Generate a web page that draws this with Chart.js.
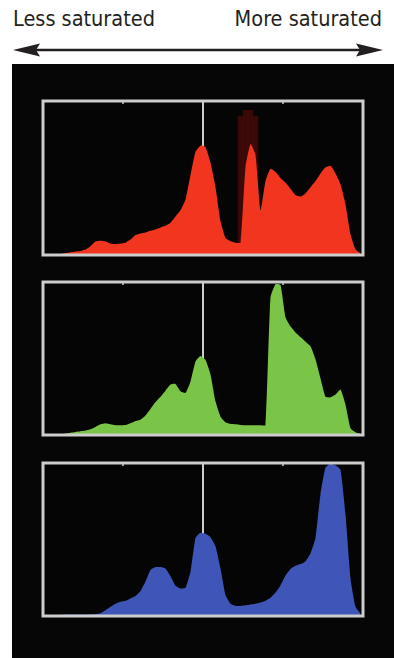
<!DOCTYPE html>
<html>
<head>
<meta charset="utf-8">
<script src="https://cdn.jsdelivr.net/npm/chart.js@4/dist/chart.umd.min.js"></script>
<style>
  html, body { margin: 0; padding: 0; background: #ffffff; }
  body { width: 394px; height: 658px; position: relative; overflow: hidden; }
  #header { position: absolute; left: 0; top: 0; }
  #panel { position: absolute; left: 12px; top: 64px; width: 382px; height: 594px; background: #060606; }
  canvas.hist { position: absolute; }
</style>
</head>
<body>
<svg id="header" width="394" height="64" xmlns="http://www.w3.org/2000/svg">
  <text x="13" y="26" font-family="'Liberation Sans Narrow','DejaVu Sans Condensed','Liberation Sans',sans-serif" font-size="21.5" fill="#231f20">Less saturated</text>
  <text x="382" y="26" text-anchor="end" font-family="'Liberation Sans Narrow','DejaVu Sans Condensed','Liberation Sans',sans-serif" font-size="21.5" fill="#231f20">More saturated</text>
  <line x1="34" y1="50" x2="360" y2="50" stroke="#231f20" stroke-width="2.5"/>
  <polygon points="13,50 40,43.5 36,50 40,56.5" fill="#231f20"/>
  <polygon points="383,50 356,43.5 360,50 356,56.5" fill="#231f20"/>
</svg>
<div id="panel"></div>
<canvas id="red" class="hist" style="left:37px;top:95px;width:332px;height:166px" width="332" height="166"></canvas>
<canvas id="green" class="hist" style="left:37px;top:276px;width:332px;height:165px" width="332" height="165"></canvas>
<canvas id="blue" class="hist" style="left:37px;top:457px;width:332px;height:165px" width="332" height="165"></canvas>
<script>
// Histogram bins (64 saturation bins, low -> high)
const binLabels = [0,1,2,3,4,5,6,7,8,9,10,11,12,13,14,15,16,17,18,19,20,21,22,23,24,25,26,27,28,29,30,31,
                   32,33,34,35,36,37,38,39,40,41,42,43,44,45,46,47,48,49,50,51,52,53,54,55,56,57,58,59,60,61,62,63];

const redValues = [0,0,0,0.5,1.3,1.7,2.2,2.6,
                   3.5,5.7,8.7,9.2,8.7,7.4,7,7.4,
                   8,10,13,14,14.6,15.7,16.6,17.9,
                   19,21,25,29,36,52,67,71,
                   70,60,44,22,11,9,8,8,
                   57,72,65,29,48,56,54,50,
                   47,43,39,38,40,44,48,53,
                   57,58,53,46,33,13.5,3.7,1];

const redGlowValues = [0,0,0,0,0,0,0,0,
                       0,0,0,0,0,0,0,0,
                       0,0,0,0,0,0,0,0,
                       0,0,0,0,0,0,0,0,
                       0,0,0,0,0,0,0,90,
                       94,94,90,0,0,0,0,0,
                       0,0,0,0,0,0,0,0,
                       0,0,0,0,0,0,0,0];

const greenValues = [0,0,0,0,0.9,1.5,2,2.4,
                     2.9,3.7,5.3,7,7.7,7,6.4,6.4,
                     6.6,7.7,9.2,10,12.7,17,21.5,25,
                     29,33,33.4,28.6,27.5,35,48,51.6,
                     49,39.6,22,12,8.4,7.3,7,6.6,
                     6.4,6.4,6.4,6.4,6.4,90,98.5,98,
                     77,71,67,64,61,58,49.5,37,
                     25,24.6,26.4,29.7,19.8,4.4,1.8,0.7];

const blueValues = [0,0.2,0.4,0.6,0.9,0.9,0.9,0.9,
                    0.9,1.1,1.3,1.8,3.7,6,8,9.3,
                    10,11.5,13,16.3,22.5,30,32,32,
                    31,26,19.8,18,18.5,29,51,54.4,
                    53.7,51.5,45.6,31,13.7,8,6.6,6.6,
                    7,7.5,8,8.8,10,12,15.4,20,
                    26.4,30.8,32.8,34,35.7,41,51,79.7,
                    97,99.5,98.5,95.6,66.5,24.7,6,1.5];

const frameColor = '#cdcdcd';

const framePlugin = {
  id: 'histFrame',
  beforeDatasetsDraw(chart) {
    const a = chart.chartArea, ctx = chart.ctx;
    ctx.save();
    ctx.fillStyle = '#050505';
    ctx.fillRect(a.left, a.top, a.right - a.left, a.bottom - a.top);
    // centre line
    ctx.strokeStyle = frameColor;
    ctx.lineWidth = 2;
    const cx = (a.left + a.right) / 2;
    ctx.beginPath(); ctx.moveTo(cx, a.top); ctx.lineTo(cx, a.bottom); ctx.stroke();
    ctx.restore();
  },
  afterDatasetsDraw(chart) {
    const a = chart.chartArea, ctx = chart.ctx;
    ctx.save();
    ctx.strokeStyle = frameColor;
    ctx.lineWidth = 3;
    ctx.strokeRect(a.left, a.top, a.right - a.left, a.bottom - a.top);
    // small ticks on the top border at the quarters
    ctx.lineWidth = 1.5;
    [0.25, 0.75].forEach(f => {
      const x = a.left + (a.right - a.left) * f;
      ctx.beginPath(); ctx.moveTo(x, a.top); ctx.lineTo(x, a.top + 3); ctx.stroke();
    });
    ctx.restore();
  }
};

function makeHist(id, datasets) {
  new Chart(document.getElementById(id), {
    type: 'line',
    data: { labels: binLabels, datasets: datasets },
    options: {
      responsive: false,
      animation: false,
      events: [],
      layout: { padding: 6 },
      plugins: { legend: { display: false }, tooltip: { enabled: false } },
      elements: { point: { radius: 0 }, line: { tension: 0.15, borderWidth: 0 } },
      datasets: { bar: { barPercentage: 1, categoryPercentage: 1, borderWidth: 0, grouped: false } },
      scales: {
        x: { display: false, offset: true },
        y: { display: false, min: 0, max: 100 }
      }
    },
    plugins: [framePlugin]
  });
}

makeHist('red', [
  { label: 'Red', data: redValues, backgroundColor: '#f2351e', borderColor: '#f2351e', fill: 'origin', order: 1 },
  { type: 'bar', label: 'Red glow', data: redGlowValues, backgroundColor: 'rgba(130,16,10,0.4)', order: 2 }
]);
makeHist('green', [
  { label: 'Green', data: greenValues, backgroundColor: '#7ac447', borderColor: '#7ac447', fill: 'origin' }
]);
makeHist('blue', [
  { label: 'Blue', data: blueValues, backgroundColor: '#3f56b8', borderColor: '#3f56b8', fill: 'origin' }
]);
</script>
</body>
</html>
